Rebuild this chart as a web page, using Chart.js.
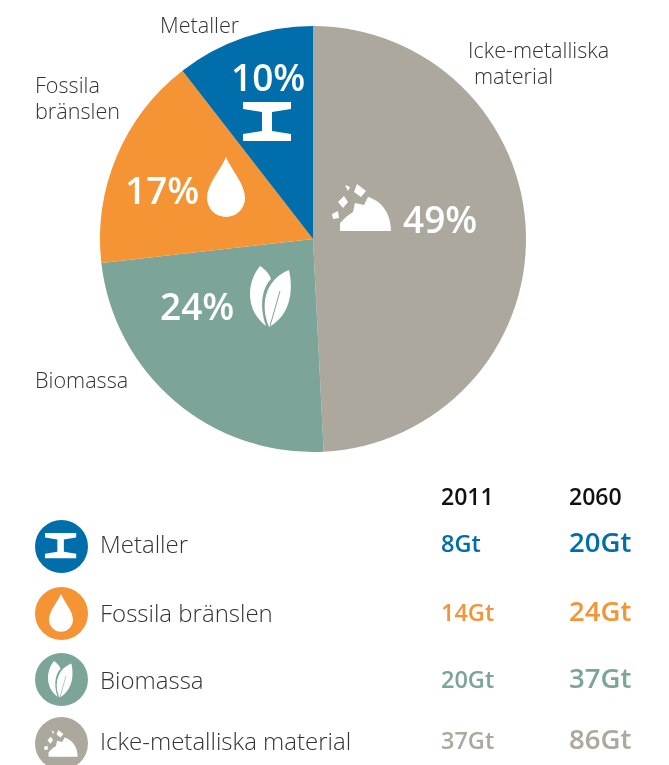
<!DOCTYPE html>
<html lang="sv">
<head>
<meta charset="utf-8">
<script src="https://cdn.jsdelivr.net/npm/chart.js@4"></script>
<style>
html,body{margin:0;padding:0;background:#fff;overflow:hidden}
#stage{position:relative;width:669px;height:765px;overflow:hidden;font-family:"Open Sans",sans-serif}
canvas{position:absolute;left:0;top:0}
.t{position:absolute;white-space:pre;line-height:1;transform:translateY(-50%)}
svg{position:absolute;overflow:visible}
</style>
</head>
<body>
<div id="stage"><canvas id="c" width="669" height="765"></canvas></div>
<script>
const categories = ["Icke-metalliska material", "Biomassa", "Fossila bränslen", "Metaller"];
const shareLabels = [49, 24, 17, 10];
const sliceSizes = [49.2, 24.0, 16.3, 10.5];
const colors = ["#aca89d", "#7da498", "#f49435", "#006eab"];
const years = ["2011", "2060"];
const values2011 = [37, 20, 14, 8];
const values2060 = [86, 37, 24, 20];

const chart = new Chart(document.getElementById("c"), {
  type: "pie",
  data: { labels: categories, datasets: [{ data: sliceSizes, backgroundColor: colors, borderWidth: 0 }] },
  options: {
    responsive: false, animation: false,
    layout: { padding: { left: 100, right: 143, top: 26, bottom: 313 } },
    plugins: { legend: { display: false }, tooltip: { enabled: false } }
  }
});

const stage = document.getElementById("stage");
function text(s, x, y, size, weight, color) {
  const d = document.createElement("div");
  d.className = "t"; d.textContent = s;
  d.style.cssText = `left:${x}px;top:${y}px;font-size:${size}px;font-weight:${weight};color:${color}`;
  stage.appendChild(d);
}
const ICONS = {
  beam: (c) => `<path d="M0 0H48V7L29 10V29L48 32V39H0V32L19 29V10L0 7Z" fill="#fff"/>`,
  drop: (c) => `<path d="M19 0C25 14 38 27 38 41A19 19 0 0 1 0 41C0 27 13 14 19 0Z" fill="#fff"/>`,
  leaf: (c) => `<path d="M10 0C16 4 20 9 21 13C14 20 8 36 16 60C6 52 0 42 0 28C0 16 5 6 10 0Z" fill="#fff"/><path d="M39 4C43 22 42 48 19 61C10 40 14 14 39 4Z" fill="#fff"/><path d="M30 25L20 60" stroke="${c}" stroke-width="1" fill="none"/>`,
  rock: (c) => `<path d="M8 47V39L14 33L21 28L23 19L32 21L36 13C50 17 59 30 59 47Z M25 0L34 7L29 13L22 8Z M6 18L12 12L16 18L11 24Z M13 1L18 3L16 7Z M0 30L6 27L7 34L1 35Z" fill="#fff"/>`
};
function icon(kind, x, y, scale, color) {
  const s = document.createElementNS("http://www.w3.org/2000/svg", "svg");
  s.setAttribute("width", 70); s.setAttribute("height", 70);
  s.style.left = x + "px"; s.style.top = y + "px";
  s.innerHTML = `<g transform="scale(${scale})">${ICONS[kind](color)}</g>`;
  stage.appendChild(s);
}
function disc(x, y, r, color) {
  const s = document.createElementNS("http://www.w3.org/2000/svg", "svg");
  s.setAttribute("width", 2*r); s.setAttribute("height", 2*r);
  s.style.left = (x-r) + "px"; s.style.top = (y-r) + "px";
  s.innerHTML = `<circle cx="${r}" cy="${r}" r="${r}" fill="${color}"/>`;
  stage.appendChild(s);
}

// pie: percent labels and pictograms
const pctFont = [37, 600, "#fff"];
text(shareLabels[0] + "%", 403, 218, ...pctFont);
text(shareLabels[1] + "%", 160, 305, ...pctFont);
text(shareLabels[2] + "%", 125, 189, ...pctFont);
text(shareLabels[3] + "%", 231, 76, ...pctFont);
icon("rock", 332, 184, 1, colors[0]);
icon("leaf", 250, 266, 1, colors[1]);
icon("drop", 207, 157, 1, colors[2]);
icon("beam", 243, 102, 1, colors[3]);

// outer labels
const lab = [21.6, 300, "#333"];
text(categories[3], 160, 25, ...lab);
text("Icke-metalliska", 468, 50, ...lab);
text("material", 474, 76, ...lab);
text("Fossila", 35, 85, ...lab);
text("bränslen", 35, 111, ...lab);
text(categories[1], 35, 380, ...lab);

// table
text(years[0], 441, 496, 23, 600, "#111");
text(years[1], 569, 496, 23, 600, "#111");
const rows = [
  { i: 3, kind: "beam", y: 544, cy: 546, sc: 0.65, w: 48, h: 39 },
  { i: 2, kind: "drop", y: 613, cy: 613, sc: 0.63, w: 38, h: 60 },
  { i: 1, kind: "leaf", y: 680, cy: 679, sc: 0.6, w: 42, h: 61 },
  { i: 0, kind: "rock", y: 741, cy: 743, sc: 0.57, w: 60, h: 47 }
];
for (const r of rows) {
  const col = colors[r.i];
  disc(61, r.cy, 26.5, col);
  icon(r.kind, 61 - r.w * r.sc / 2, r.cy - r.h * r.sc / 2, r.sc, col);
  text(categories[r.i], 100, r.y, 24, 300, "#333");
  text(values2011[r.i] + "Gt", 441, r.y, 23.5, 600, col);
  text(values2060[r.i] + "Gt", 569, r.y - 2, 27.5, 600, col);
}
</script>
</body>
</html>
